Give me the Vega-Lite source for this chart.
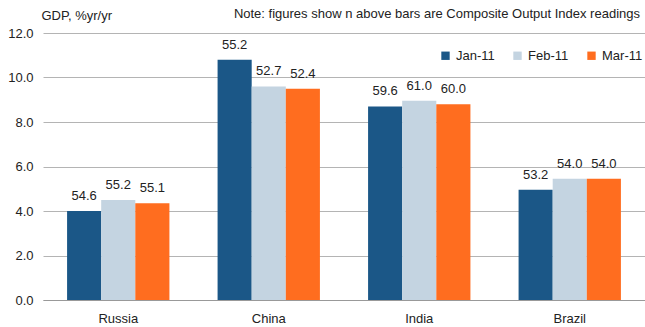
{
  "$schema": "https://vega.github.io/schema/vega-lite/v6.json",
  "autosize": "none",
  "width": 602,
  "height": 267,
  "padding": {"left": 43, "top": 33, "right": 0, "bottom": 27},
  "background": "white",
  "config": {"font": "Liberation Sans", "view": {"stroke": null}},
  "title": {"text": "Note: figures show n above bars are Composite Output Index readings", "anchor": "end", "orient": "top", "frame": "group", "baseline": "alphabetic", "fontSize": 13, "fontWeight": "normal", "color": "#222222", "offset": 14, "dx": -5, "dy": 36},
  "data": {"values": [
    {"country": "Russia", "month": "Jan-11", "gdp": 4.0, "pmi": 54.6},
    {"country": "Russia", "month": "Feb-11", "gdp": 4.5, "pmi": 55.2},
    {"country": "Russia", "month": "Mar-11", "gdp": 4.35, "pmi": 55.1},
    {"country": "China", "month": "Jan-11", "gdp": 10.8, "pmi": 55.2},
    {"country": "China", "month": "Feb-11", "gdp": 9.6, "pmi": 52.7},
    {"country": "China", "month": "Mar-11", "gdp": 9.5, "pmi": 52.4},
    {"country": "India", "month": "Jan-11", "gdp": 8.7, "pmi": 59.6},
    {"country": "India", "month": "Feb-11", "gdp": 8.95, "pmi": 61.0},
    {"country": "India", "month": "Mar-11", "gdp": 8.8, "pmi": 60.0},
    {"country": "Brazil", "month": "Jan-11", "gdp": 4.95, "pmi": 53.2},
    {"country": "Brazil", "month": "Feb-11", "gdp": 5.45, "pmi": 54.0},
    {"country": "Brazil", "month": "Mar-11", "gdp": 5.45, "pmi": 54.0}
  ]},
  "encoding": {
    "x": {"field": "country", "type": "nominal", "sort": ["Russia", "China", "India", "Brazil"],
      "scale": {"paddingInner": 0.32, "paddingOuter": 0.16},
      "axis": {"title": null, "labelAngle": 0, "ticks": false, "domain": true, "domainColor": "#999999", "labelPadding": 12, "labelFontSize": 13, "labelColor": "#222222", "grid": false}},
    "xOffset": {"field": "month", "type": "nominal", "sort": ["Jan-11", "Feb-11", "Mar-11"], "scale": {"paddingInner": 0, "paddingOuter": 0}},
    "y": {"field": "gdp", "type": "quantitative", "scale": {"domain": [0, 12], "nice": false},
      "axis": {"values": [0, 2, 4, 6, 8, 10, 12], "format": ".1f", "ticks": false, "domain": false, "grid": true, "gridColor": "#b4b4b4", "labelPadding": 10, "labelFontSize": 13, "labelColor": "#222222",
        "title": "GDP, %yr/yr", "titleAngle": 0, "titleAlign": "left", "titleBaseline": "alphabetic", "titleX": -2, "titleY": -14, "titleFontWeight": "normal", "titleFontSize": 13, "titleColor": "#222222"}}
  },
  "layer": [
    {"mark": {"type": "bar"},
     "encoding": {"color": {"field": "month", "type": "nominal", "sort": ["Jan-11", "Feb-11", "Mar-11"],
       "scale": {"domain": ["Jan-11", "Feb-11", "Mar-11"], "range": ["#1b5787", "#c4d4e1", "#ff6d1f"]},
       "legend": {"orient": "none", "legendX": 396, "legendY": 16, "direction": "horizontal", "title": null, "symbolType": "square", "symbolSize": 70, "symbolStrokeWidth": 0, "labelFontSize": 13, "labelColor": "#222222", "columnPadding": 16, "labelOffset": 4}}}},
    {"mark": {"type": "text", "baseline": "bottom", "dy": -8, "fontSize": 13, "color": "#222222"},
     "encoding": {"text": {"field": "pmi", "type": "quantitative", "format": ".1f"}}}
  ]
}
